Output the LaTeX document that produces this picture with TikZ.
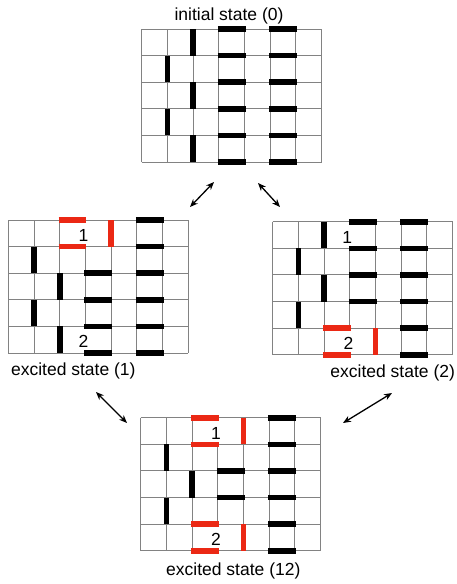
\documentclass[tikz,border=0pt]{standalone}
\usepackage{fontspec}
\setmainfont{Liberation Sans}
\usetikzlibrary{arrows.meta}
\definecolor{exred}{RGB}{235,40,20}
\definecolor{gridgray}{RGB}{130,130,130}
\tikzset{
  gridline/.style={draw=gridgray, line width=0.9pt},
  barblack/.style={line width=5.6pt, black},
  barred/.style={line width=5.6pt, exred},
  caption/.style={font=\fontsize{17.5}{20}\selectfont, inner sep=0pt},
  digit/.style={font=\fontsize{17.5}{20}\selectfont, inner sep=0pt},
  link/.style={line width=1.3pt, {Stealth[length=8pt,width=6.5pt]}-{Stealth[length=8pt,width=6.5pt]}},
  cellunits/.style={x=25.7pt, y=-26.6pt},
}
\newcommand{\LatGrid}[1]{%
  \foreach \rr in {0,...,5} {\draw[gridline] (0,\rr) -- (7,\rr);}
  \foreach \cc in {0,1,2,4,5,6,7} {\draw[gridline] (\cc,0) -- (\cc,5);}
  \ifnum#1=1 \draw[gridline] (3,1) -- (3,4);\else \draw[gridline] (3,0) -- (3,5);\fi
}
\newcommand{\HB}[3]{\draw[#1] (#2-0.04,#3) -- (#2+1.04,#3);}
\newcommand{\VB}[3]{\draw[#1] (#2,#3) -- (#2,#3+1);}
\begin{document}
\begin{tikzpicture}[x=1pt, y=-1pt]
\useasboundingbox (0,0) rectangle (456,584);
\fill[white] (0,0) rectangle (456,584);

% initial state (0)
\begin{scope}[shift={(141.7,29)}, cellunits]
  \LatGrid{0}
  \foreach \rr in {0,2,4} {\VB{barblack}{2}{\rr}}
  \foreach \rr in {1,3} {\VB{barblack}{1}{\rr}}
  \foreach \ll in {0,...,5} {\HB{barblack}{3}{\ll}\HB{barblack}{5}{\ll}}
\end{scope}
\node[caption] (cap0) at (229,16.2) {initial state (0)};

% excited state (1)
\begin{scope}[shift={(8.3,220)}, cellunits]
  \LatGrid{1}
  \HB{barred}{2}{0}\HB{barred}{2}{1}\VB{barred}{4}{0}
  \foreach \rr in {1,3} {\VB{barblack}{1}{\rr}}
  \foreach \rr in {2,4} {\VB{barblack}{2}{\rr}}
  \foreach \ll in {2,...,5} {\HB{barblack}{3}{\ll}}
  \foreach \ll in {0,...,5} {\HB{barblack}{5}{\ll}}
  \node[digit] (a1) at (2.93,0.58) {1};
  \node[digit] (a2) at (2.93,4.58) {2};
\end{scope}
\node[caption] (cap1) at (73.3,371) {excited state (1)};

% excited state (2)
\begin{scope}[shift={(272.7,221.7)}, cellunits]
  \LatGrid{1}
  \HB{barred}{2}{4}\HB{barred}{2}{5}\VB{barred}{4}{4}
  \foreach \rr in {0,2} {\VB{barblack}{2}{\rr}}
  \foreach \rr in {1,3} {\VB{barblack}{1}{\rr}}
  \foreach \ll in {0,...,3} {\HB{barblack}{3}{\ll}}
  \foreach \ll in {0,...,5} {\HB{barblack}{5}{\ll}}
  \node[digit] (b1) at (2.9,0.58) {1};
  \node[digit] (b2) at (2.95,4.58) {2};
\end{scope}
\node[caption] (cap2) at (392.7,372.5) {excited state (2)};

% excited state (12)
\begin{scope}[shift={(140.7,417.7)}, cellunits]
  \LatGrid{1}
  \HB{barred}{2}{0}\HB{barred}{2}{1}\VB{barred}{4}{0}
  \HB{barred}{2}{4}\HB{barred}{2}{5}\VB{barred}{4}{4}
  \foreach \rr in {1,3} {\VB{barblack}{1}{\rr}}
  \VB{barblack}{2}{2}
  \foreach \ll in {2,3} {\HB{barblack}{3}{\ll}}
  \foreach \ll in {0,...,5} {\HB{barblack}{5}{\ll}}
  \node[digit] (c1) at (2.93,0.58) {1};
  \node[digit] (c2) at (2.93,4.58) {2};
\end{scope}
\node[caption] (cap12) at (233.3,570.5) {excited state (12)};

% arrows
\coordinate (p1a) at (190,207); \coordinate (p1b) at (214,182);
\coordinate (p2a) at (258,183); \coordinate (p2b) at (280,207);
\coordinate (p3a) at (96,392);  \coordinate (p3b) at (127,423);
\coordinate (p4a) at (343,423); \coordinate (p4b) at (392,393);
\draw[link] (p1a) -- (p1b);
\draw[link] (p2a) -- (p2b);
\draw[link] (p3a) -- (p3b);
\draw[link] (p4a) -- (p4b);
\end{tikzpicture}
\end{document}
